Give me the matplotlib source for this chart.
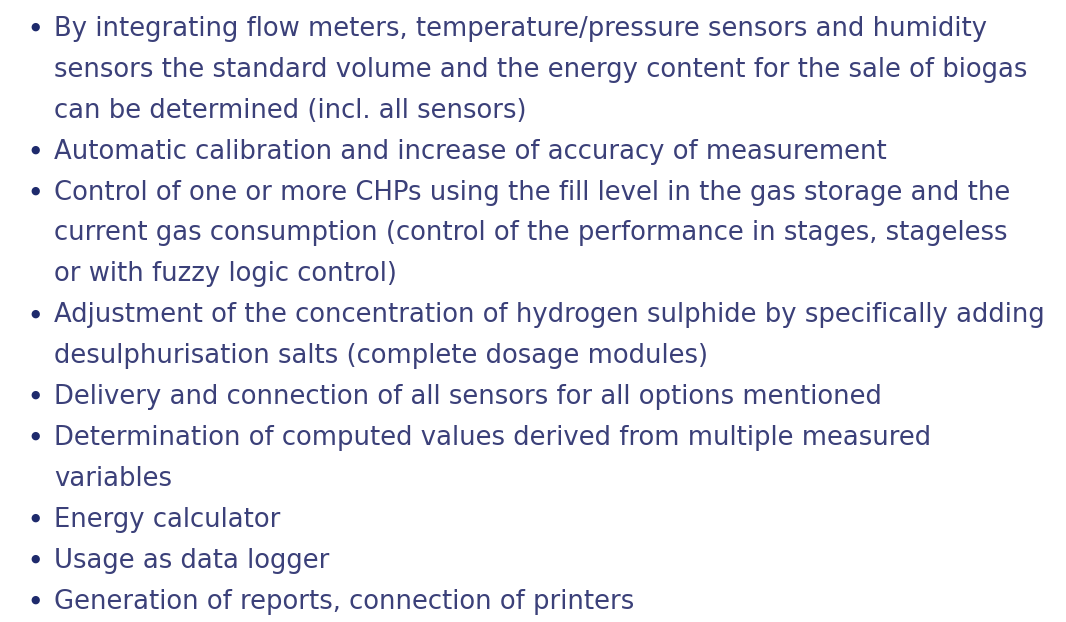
import matplotlib
matplotlib.use("Agg")
import matplotlib.pyplot as plt

# bullet items, each a list of wrapped lines as in the picture
items = [
    ["By integrating flow meters, temperature/pressure sensors and humidity",
     "sensors the standard volume and the energy content for the sale of biogas",
     "can be determined (incl. all sensors)"],
    ["Automatic calibration and increase of accuracy of measurement"],
    ["Control of one or more CHPs using the fill level in the gas storage and the",
     "current gas consumption (control of the performance in stages, stageless",
     "or with fuzzy logic control)"],
    ["Adjustment of the concentration of hydrogen sulphide by specifically adding",
     "desulphurisation salts (complete dosage modules)"],
    ["Delivery and connection of all sensors for all options mentioned"],
    ["Determination of computed values derived from multiple measured",
     "variables"],
    ["Energy calculator"],
    ["Usage as data logger"],
    ["Generation of reports, connection of printers"],
]

text_color = "#3b4079"
bullet_color = "#1e2a6c"

W, H = 1066, 622
fig = plt.figure(figsize=(W / 100, H / 100), dpi=100)
fig.patch.set_facecolor("white")
ax = fig.add_axes([0, 0, 1, 1])
ax.set_xlim(0, W)
ax.set_ylim(H, 0)
ax.axis("off")

x_bullet = 35
x_text = 54
y0 = 29
dy = 40.9
target_w = 995  # widest line in the picture, px

# pick the font size so the longest line spans about as wide as in the picture
fs = 19.5
r = fig.canvas.get_renderer()
probe = ax.text(0, 0, items[3][0], fontsize=fs, family="DejaVu Sans")
w = probe.get_window_extent(renderer=r).width
probe.remove()
fs = fs * target_w / w

row = 0
for lines in items:
    ax.text(x_bullet, y0 + row * dy - 2, "\u25cf", color=bullet_color, fontsize=fs * 0.42,
            ha="center", va="center", family="DejaVu Sans")
    for ln in lines:
        ax.text(x_text, y0 + row * dy, ln, color=text_color, fontsize=fs,
                ha="left", va="center", family="DejaVu Sans")
        row += 1

fig.savefig("out.png", dpi=100, facecolor="white")
